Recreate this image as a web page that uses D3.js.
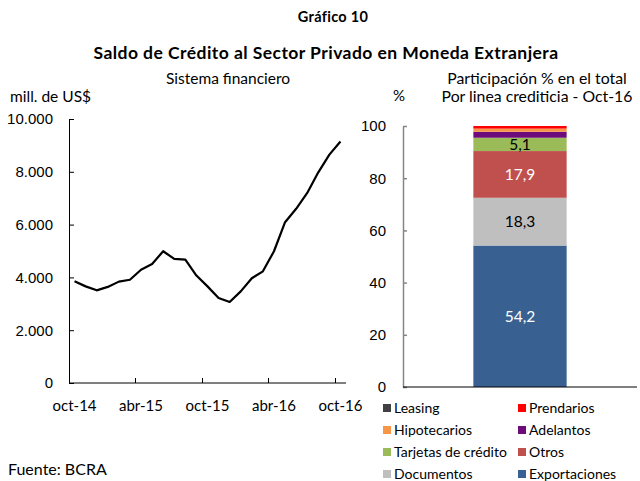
<!DOCTYPE html>
<html>
<head>
<meta charset="utf-8">
<script src="https://cdn.jsdelivr.net/npm/d3@7"></script>
<style>
  html, body { margin: 0; padding: 0; background: #fff; }
  svg { display: block; font-family: Lato, "Open Sans", sans-serif; }
</style>
</head>
<body>
<div id="chart"></div>
<script>
// ── Data ─────────────────────────────────────────────────────────────────
const months = [
  "oct-14", "nov-14", "dic-14", "ene-15", "feb-15", "mar-15",
  "abr-15", "may-15", "jun-15", "jul-15", "ago-15", "sep-15",
  "oct-15", "nov-15", "dic-15", "ene-16", "feb-16", "mar-16",
  "abr-16", "may-16", "jun-16", "jul-16", "ago-16", "sep-16", "oct-16"
];
const saldo = [
  3850, 3660, 3510, 3640, 3840, 3910,
  4290, 4510, 4990, 4700, 4670, 4070,
  3660, 3220, 3070, 3470, 3970, 4230,
  4990, 6090, 6600, 7200, 7980, 8650, 9150
];
const monthLabels = ["oct-14", "abr-15", "oct-15", "abr-16", "oct-16"];
const yTicksLeft = [0, 2000, 4000, 6000, 8000, 10000];

const lines  = ["Exportaciones", "Documentos", "Otros", "Tarjetas de crédito",
                "Adelantos", "Hipotecarios", "Prendarios", "Leasing"];
const shares = [54.2, 18.3, 17.9, 5.1, 2.3, 1.2, 1.0, 0.0];
const lineColors = ["#386192", "#bfbfbf", "#c0504d", "#9bbb59",
                    "#6e0b7a", "#f79646", "#ff0000", "#404040"];
const legendOrder = ["Leasing", "Prendarios", "Hipotecarios", "Adelantos",
                     "Tarjetas de crédito", "Otros", "Documentos", "Exportaciones"];
const yTicksRight = [0, 20, 40, 60, 80, 100];

// ── Setup ────────────────────────────────────────────────────────────────
const W = 640, H = 481;
const svg = d3.select("#chart").append("svg")
  .attr("width", W).attr("height", H).attr("viewBox", `0 0 ${W} ${H}`);

const esLocale = d3.formatLocale({ decimal: ",", thousands: ".", grouping: [3], currency: ["$", ""] });
const fmtThousands = esLocale.format(",");
const fmtShare = esLocale.format(".1f");
const colorOf = d3.scaleOrdinal().domain(lines).range(lineColors);

const txt = (x, y, s, opt = {}) => svg.append("text")
  .attr("x", x).attr("y", y)
  .attr("text-anchor", opt.anchor || "start")
  .attr("font-size", opt.size || 15)
  .attr("font-weight", opt.bold ? 700 : 400)
  .attr("letter-spacing", opt.ls || 0)
  .attr("fill", "#000")
  .text(s);

// Titles
txt(333, 22, "Gráfico 10", { anchor: "middle", size: 14.5, bold: true, ls: 0.3 });
txt(326, 59, "Saldo de Crédito al Sector Privado en Moneda Extranjera",
  { anchor: "middle", size: 17.5, bold: true, ls: 0.45 });
txt(228, 84, "Sistema financiero", { anchor: "middle", size: 15.5 });
txt(10, 102, "mill. de US$", { size: 15.5 });
txt(537, 84, "Participación % en el total", { anchor: "middle", size: 15.8 });
txt(537, 102, "Por linea crediticia - Oct-16", { anchor: "middle", size: 15.8 });
txt(393, 101, "%");
txt(8, 475, "Fuente: BCRA", { size: 16 });

// ── Left: line chart ─────────────────────────────────────────────────────
const x = d3.scaleBand().domain(months).range([69, 346]).paddingInner(0).paddingOuter(0);
const y = d3.scaleLinear().domain([0, 10000]).range([383, 119]);

const gL = svg.append("g");

// y axis (ticks inside)
gL.append("g")
  .attr("transform", "translate(69,0)")
  .call(d3.axisLeft(y).tickValues(yTicksLeft).tickFormat(fmtThousands)
    .tickSizeInner(-5).tickSizeOuter(0).tickPadding(16))
  .call((g) => {
    g.selectAll("text").attr("font-size", 15).attr("font-family", null).attr("fill", "#000");
    g.selectAll("line, path").attr("stroke", "#000");
  });

// x axis: line + boundary ticks + centred labels
gL.append("line")
  .attr("x1", x.range()[0]).attr("x2", x.range()[1])
  .attr("y1", y(0)).attr("y2", y(0)).attr("stroke", "#000");
gL.selectAll("line.xtick")
  .data(monthLabels.slice(1))
  .join("line").attr("class", "xtick")
  .attr("x1", (d) => Math.round(x(d)) + 0.5).attr("x2", (d) => Math.round(x(d)) + 0.5)
  .attr("y1", y(0)).attr("y2", y(0) - 5).attr("stroke", "#000");
gL.selectAll("text.xlab")
  .data(monthLabels)
  .join("text").attr("class", "xlab")
  .attr("x", (d) => x(d) + x.bandwidth() / 2).attr("y", 411)
  .attr("text-anchor", "middle").attr("font-size", 15).text((d) => d);

const line = d3.line()
  .x((d, i) => x(months[i]) + x.bandwidth() / 2)
  .y((d) => y(d));
gL.append("path").datum(saldo)
  .attr("d", line).attr("fill", "none")
  .attr("stroke", "#000").attr("stroke-width", 2.2).attr("stroke-linejoin", "round");

// ── Right: stacked bar ───────────────────────────────────────────────────
const xb = d3.scaleBand().domain(["Oct-16"]).range([403, 637]).padding(0.43);
const yb = d3.scaleLinear().domain([0, 100]).range([387, 126]);

const row = { mes: "Oct-16" };
lines.forEach((k, i) => { row[k] = shares[i]; });
const stacked = d3.stack().keys(lines)([row]);

const gR = svg.append("g");
gR.selectAll("rect")
  .data(stacked)
  .join("rect")
  .attr("x", xb("Oct-16")).attr("width", xb.bandwidth())
  .attr("y", (s) => yb(s[0][1]))
  .attr("height", (s) => Math.max(0, yb(s[0][0]) - yb(s[0][1])))
  .attr("fill", (s) => colorOf(s.key));

gR.selectAll("text.val")
  .data(stacked.filter((s) => s[0].data[s.key] >= 5))
  .join("text").attr("class", "val")
  .attr("x", xb("Oct-16") + xb.bandwidth() / 2)
  .attr("y", (s) => (yb(s[0][0]) + yb(s[0][1])) / 2 + 5.5)
  .attr("text-anchor", "middle").attr("font-size", 15.5)
  .attr("fill", (s) => (s.key === "Exportaciones" || s.key === "Otros") ? "#fff" : "#000")
  .text((s) => fmtShare(s[0].data[s.key]));

gR.append("g")
  .attr("transform", "translate(403,0)")
  .call(d3.axisLeft(yb).tickValues(yTicksRight)
    .tickSizeInner(-4).tickSizeOuter(0).tickPadding(17))
  .call((g) => {
    g.selectAll("text").attr("font-size", 15).attr("font-family", null).attr("fill", "#000");
    g.selectAll("line, path").attr("stroke", "#868686").attr("stroke-width", 1.5);
  });
gR.append("line")
  .attr("x1", 403).attr("x2", 637).attr("y1", yb(0)).attr("y2", yb(0))
  .attr("stroke", "#000");

// Legend
const leg = svg.append("g").selectAll("g")
  .data(legendOrder)
  .join("g")
  .attr("transform", (d, i) => `translate(${i % 2 ? 518 : 383},${404 + Math.floor(i / 2) * 22})`);
leg.append("rect").attr("width", 8).attr("height", 8).attr("fill", (d) => colorOf(d));
leg.append("text").attr("x", 11).attr("y", 8.5).attr("font-size", 14).text((d) => d);
</script>
</body>
</html>
